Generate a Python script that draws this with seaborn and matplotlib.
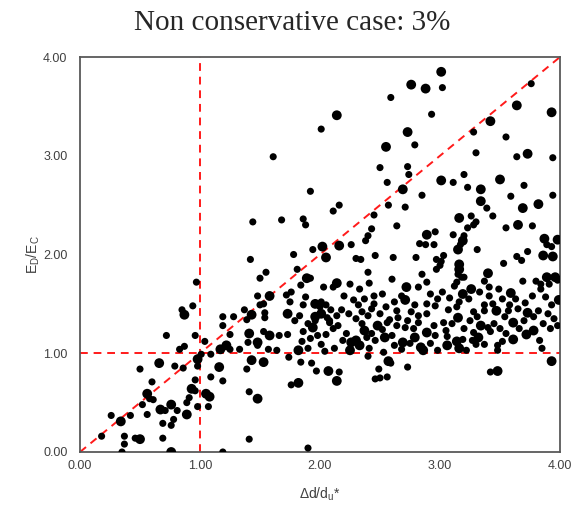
import pandas as pd
import seaborn as sns
import matplotlib
matplotlib.use('Agg')
import matplotlib.pyplot as plt
from matplotlib.ticker import FormatStrFormatter

## Data (small and large markers kept apart)
x_small = [1.61, 1.92, 2.01, 3.02, 2.59, 2.93, 2.79, 2.50, 2.73, 2.74, 2.56,
           3.76, 3.28, 3.55, 3.30, 3.64, 3.94, 3.11, 3.20, 3.23, 3.70,
           0.97, 0.94, 0.85,
           1.44, 1.68, 1.86, 1.88, 1.42, 1.78, 1.94, 1.81, 1.55, 1.50, 1.92,
           1.84, 1.48, 1.72, 1.76, 1.88, 1.50, 1.53, 1.75, 1.86, 2.00, 1.37,
           1.54, 1.83, 1.19, 1.28, 1.39, 1.54,
           2.85, 2.16, 2.11, 2.57, 2.71, 2.45, 2.64, 2.43, 2.40, 2.38, 2.96,
           2.83, 2.88, 2.95, 2.26, 2.30, 2.34, 2.46, 2.61, 2.80, 2.97, 3.00,
           2.97, 2.40, 2.41, 2.11, 2.03, 2.82, 2.89, 2.20, 2.28, 2.37, 2.45,
           2.01, 2.05, 2.09, 2.18, 2.32, 2.43, 2.79, 2.89, 2.96, 2.76, 2.64,
           2.82, 2.89, 2.58, 2.08,
           3.59, 3.94, 3.39, 3.26, 3.44, 3.30, 3.28, 3.23, 3.55, 3.77, 3.11,
           3.20, 3.17, 3.31, 3.89, 3.93, 3.73, 3.64, 3.68, 3.03, 3.01, 3.53,
           3.15, 3.18, 3.20, 3.14, 3.12, 3.37, 3.41, 3.49, 3.69, 3.80, 3.84,
           3.84, 3.91, 3.98, 3.41, 3.08, 3.16, 3.71, 3.37, 3.44, 3.58, 3.93,
           3.14, 3.07, 3.28, 3.37, 3.57, 3.82, 3.90, 3.31, 3.54, 3.78,
           0.72, 0.96, 0.83, 0.87, 0.79, 0.86, 0.50, 0.98, 0.60, 0.96, 0.96,
           0.58, 0.61, 0.91, 0.52, 0.89, 0.98, 0.81, 0.71, 0.56, 0.26, 0.42,
           0.69, 0.78, 0.76, 0.18, 0.37, 0.46, 0.69, 0.37, 0.35,
           1.19, 1.25, 1.04, 1.53, 1.66, 1.73, 1.86, 1.98, 1.79, 1.40, 1.48,
           1.25, 1.33, 1.09, 1.01, 1.57, 1.64, 1.90, 1.74, 1.84, 1.93, 1.97,
           1.39, 1.09, 1.19, 1.76, 1.41, 1.07, 1.41, 1.19, 1.90,
           2.08, 2.11, 2.05, 2.01, 2.19, 2.39, 2.41, 2.40, 2.53, 2.59, 2.49,
           2.46, 2.50, 2.56, 2.56, 2.64, 2.71, 2.68, 2.73, 2.78, 2.96, 2.73,
           2.82, 2.16,
           3.03, 3.05, 3.19, 3.22, 3.28, 3.30, 3.37, 3.40, 3.42, 3.48, 3.48,
           3.52, 3.83, 3.85, 3.42, 3.98,
           2.15, 2.22, 2.35, 2.43, 2.46, 2.52, 2.60, 2.62, 2.75, 2.92, 2.95,
           2.12, 2.04, 1.90, 1.96, 1.92, 1.85, 2.06, 2.14, 2.24, 2.30, 2.40,
           2.50, 2.55, 2.62, 2.68, 2.52, 2.33, 2.25, 2.60, 2.85, 2.92, 2.98,
           3.02, 3.10, 3.20, 3.25, 3.50, 3.55, 3.66, 3.70, 3.86, 3.92, 3.95,
           3.24, 3.33, 3.52, 3.63, 3.77, 3.88, 3.65, 3.45, 3.27, 3.06, 2.98,
           2.45, 2.65, 2.35]
y_small = [2.99, 2.64, 3.27, 3.69, 3.59, 3.42, 3.11, 2.88, 2.89, 2.81, 2.73,
           3.73, 3.24, 3.19, 3.03, 2.99, 2.98, 2.73, 2.81, 2.68, 2.70,
           1.72, 1.48, 1.44,
           2.33, 2.35, 2.36, 2.30, 1.95, 2.00, 2.05, 1.85, 1.82, 1.76, 1.76,
           1.69, 1.58, 1.59, 1.62, 1.57, 1.49, 1.50, 1.52, 1.49, 1.47, 1.44,
           1.41, 1.38, 1.37, 1.37, 1.34, 1.36,
           2.60, 2.50, 2.44, 2.50, 2.48, 2.40, 2.29, 2.26, 2.19, 2.14, 2.23,
           2.11, 2.10, 2.10, 2.10, 1.96, 1.95, 1.99, 1.97, 1.97, 1.95, 1.89,
           1.85, 1.82, 1.71, 1.67, 1.67, 1.67, 1.72, 1.58, 1.54, 1.55, 1.58,
           1.52, 1.49, 1.44, 1.44, 1.49, 1.45, 1.49, 1.50, 1.48, 1.42, 1.43,
           1.38, 1.40, 1.34, 1.33,
           2.59, 2.60, 2.47, 2.39, 2.39, 2.33, 2.30, 2.27, 2.27, 2.29, 2.20,
           2.19, 2.10, 2.05, 2.10, 2.08, 2.03, 1.98, 1.94, 1.99, 1.93, 1.91,
           1.80, 1.77, 1.77, 1.72, 1.68, 1.73, 1.67, 1.65, 1.73, 1.73, 1.70,
           1.65, 1.70, 1.74, 1.58, 1.56, 1.52, 1.51, 1.49, 1.50, 1.49, 1.49,
           1.47, 1.44, 1.42, 1.43, 1.43, 1.43, 1.40, 1.37, 1.37, 1.37,
           1.18, 1.18, 1.04, 1.07, 0.87, 0.85, 0.84, 0.87, 0.71, 0.73, 0.62,
           0.54, 0.53, 0.55, 0.48, 0.50, 0.46, 0.42, 0.42, 0.38, 0.37, 0.37,
           0.29, 0.33, 0.27, 0.16, 0.16, 0.14, 0.14, 0.08, 0.00,
           1.28, 1.19, 1.12, 1.22, 1.18, 1.19, 1.22, 1.18, 1.33, 1.11, 1.08,
           1.04, 1.04, 0.99, 0.99, 1.04, 1.03, 1.05, 0.96, 0.91, 0.90, 0.82,
           0.84, 0.76, 0.72, 0.68, 0.61, 0.46, 0.13, 0.00, 0.04,
           1.31, 1.25, 1.19, 1.09, 1.13, 1.16, 1.05, 0.97, 1.01, 0.90, 0.84,
           0.74, 0.75, 0.76, 1.31, 1.28, 1.26, 1.04, 1.33, 1.25, 1.18, 0.86,
           1.31, 0.81,
           1.31, 1.23, 1.14, 1.03, 1.21, 1.09, 1.09, 1.26, 1.22, 1.08, 1.03,
           1.12, 1.13, 1.05, 0.81, 1.28,
           1.28, 1.20, 1.30, 1.20, 1.13, 1.24, 1.18, 1.08, 1.10, 1.10, 1.28,
           1.05, 1.02, 1.30, 1.33, 1.15, 1.12, 1.36, 1.38, 1.40, 1.35, 1.38,
           1.40, 1.47, 1.52, 1.58, 1.60, 1.65, 1.70, 1.75, 1.80, 1.60, 1.55,
           1.62, 1.30, 1.25, 1.33, 1.25, 1.20, 1.25, 1.33, 1.30, 1.25, 1.35,
           1.55, 1.62, 1.55, 1.55, 1.58, 1.57, 1.45, 1.30, 1.13, 1.17, 1.03,
           1.50, 1.36, 1.42]

x_large = [3.01, 2.76, 2.88, 2.14, 2.73, 2.55, 2.69, 3.01,
           3.64, 3.93, 3.42, 3.73, 3.34, 3.50,
           0.87,
           1.89, 1.58, 1.96, 1.43, 1.73, 1.96,
           2.89, 2.02, 2.16, 2.05, 2.14, 2.72, 2.71, 2.01,
           3.34, 3.69, 3.82, 3.16, 3.65, 3.19, 3.15, 3.87, 3.98, 3.86, 3.94,
           3.16, 3.16, 3.40, 3.26, 3.89, 3.96, 3.19, 3.59, 3.99, 3.47, 3.73,
           3.15,
           0.98, 0.66, 0.93, 0.56, 0.67, 0.76, 0.89, 0.34, 0.50, 0.76,
           1.41, 1.58, 1.94, 1.48, 1.17, 1.22, 1.82, 1.43, 1.53, 1.16, 1.82,
           1.05, 1.08, 1.48,
           2.26, 2.30, 2.33, 2.25, 2.37, 2.48, 2.54, 2.57, 2.69, 2.79, 2.84,
           2.86, 2.89, 2.07, 2.14,
           3.06, 3.14, 3.16, 3.32, 3.34, 3.61, 3.61, 3.72, 3.78, 3.93, 3.48]
y_large = [3.85, 3.72, 3.68, 3.41, 3.24, 3.09, 2.66, 2.75,
           3.51, 3.44, 3.35, 3.02, 2.66, 2.76,
           1.39,
           1.76, 1.58, 1.50, 1.39, 1.40, 1.37,
           2.20, 2.08, 2.09, 1.97, 1.71, 1.67, 1.54, 1.40,
           2.54, 2.47, 2.51, 2.37, 2.30, 2.14, 2.05, 2.16, 2.15, 1.99, 1.98,
           1.90, 1.85, 1.81, 1.65, 1.77, 1.77, 1.60, 1.61, 1.54, 1.43, 1.41,
           1.36,
           0.94, 0.90, 0.64, 0.59, 0.43, 0.48, 0.38, 0.31, 0.13, 0.00,
           1.20, 1.18, 1.26, 1.11, 1.04, 1.08, 1.03, 0.93, 0.91, 0.86, 0.70,
           0.59, 0.56, 0.54,
           1.11, 1.13, 1.08, 1.03, 1.23, 1.28, 1.16, 0.92, 1.11, 1.16, 1.06,
           1.03, 1.21, 0.82, 0.72,
           1.08, 1.12, 1.05, 1.16, 1.28, 1.31, 1.14, 1.19, 1.23, 0.92, 0.82]

ticks = [0, 1, 2, 3, 4]
ref_level = 1.0   # horizontal and vertical reference lines
diag_slope = 1.0  # E_D/E_C = Δd/d_u*

df = pd.concat([pd.DataFrame({'x': x_small, 'y': y_small, 'size': 'small'}),
                pd.DataFrame({'x': x_large, 'y': y_large, 'size': 'large'})],
               ignore_index=True)

sns.set_style('white')
plt.rcParams['font.family'] = ['Liberation Sans', 'DejaVu Sans']
plt.rcParams['mathtext.fontset'] = 'custom'
plt.rcParams['mathtext.rm'] = 'Liberation Sans'

fig = plt.figure(figsize=(5.85, 5.15), dpi=100)
ax = fig.add_axes([80/585, 63/515, 480/585, 395/515])

sns.scatterplot(data=df, x='x', y='y', size='size',
                sizes={'small': 26, 'large': 50},
                color='black', edgecolor='none', linewidth=0,
                legend=False, ax=ax, zorder=3)

# reference lines
ax.axvline(ref_level, color='#ff1a1a', lw=1.4, ls=(0, (4, 3)), zorder=2)
ax.axhline(ref_level, color='#ff1a1a', lw=1.4, ls=(0, (4, 3)), zorder=2)
ax.axline((0, 0), slope=diag_slope, color='#ff1a1a', lw=1.4, ls=(0, (4, 3)), zorder=2)

ax.set_xlim(ticks[0], ticks[-1])
ax.set_ylim(ticks[0], ticks[-1])
ax.set_xticks(ticks)
ax.set_yticks(ticks)
ax.xaxis.set_major_formatter(FormatStrFormatter('%.2f'))
ax.yaxis.set_major_formatter(FormatStrFormatter('%.2f'))
ax.tick_params(direction='inout', length=6, width=1, color='#404040',
               labelsize=9, labelcolor='#404040')
ax.tick_params(axis='x', pad=3)
ax.tick_params(axis='y', pad=6)

for s in ax.spines.values():
    s.set_color('#595959')
    s.set_linewidth(1.3)

ax.set_xlabel('Δd/d$_\\mathrm{u}$*', fontsize=10, color='#404040')
ax.set_ylabel('E$_\\mathrm{D}$/E$_\\mathrm{C}$', fontsize=10, color='#404040')
ax.xaxis.set_label_coords(0.5, -0.085)
ax.yaxis.set_label_coords(-0.079, 0.5)

fig.text(0.5, 0.955, 'Non conservative case: 3%', ha='center', va='center',
         family='Liberation Serif', fontsize=21)

fig.savefig('out.png', dpi=100)
